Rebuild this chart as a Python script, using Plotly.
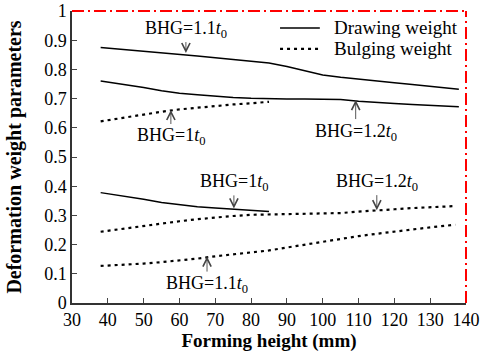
import plotly.graph_objects as go

x_d11 = [38, 45, 50, 55, 60, 65, 70, 75, 80, 85, 90, 95, 100, 105, 110, 115, 120, 125, 130, 135, 138]
y_d11 = [0.875, 0.868, 0.862, 0.857, 0.852, 0.846, 0.840, 0.834, 0.829, 0.822, 0.810, 0.795, 0.781, 0.773, 0.766, 0.759, 0.754, 0.748, 0.742, 0.736, 0.732]

x_d12 = [38, 45, 50, 55, 60, 65, 70, 75, 80, 85, 90, 95, 100, 105, 110, 115, 120, 125, 130, 135, 138]
y_d12 = [0.760, 0.748, 0.738, 0.727, 0.718, 0.713, 0.708, 0.704, 0.701, 0.699, 0.699, 0.699, 0.699, 0.697, 0.691, 0.686, 0.683, 0.680, 0.677, 0.674, 0.672]

x_b10 = [38, 45, 50, 55, 60, 65, 70, 75, 80, 85]
y_b10 = [0.622, 0.636, 0.647, 0.655, 0.663, 0.669, 0.675, 0.680, 0.684, 0.689]

x_d10 = [38, 45, 50, 55, 60, 65, 70, 75, 80, 85]
y_d10 = [0.378, 0.366, 0.355, 0.344, 0.336, 0.330, 0.325, 0.321, 0.317, 0.313]

x_b12 = [38, 45, 50, 55, 60, 65, 70, 75, 80, 85, 90, 95, 100, 105, 110, 115, 120, 125, 130, 137]
y_b12 = [0.244, 0.256, 0.265, 0.273, 0.280, 0.287, 0.293, 0.298, 0.302, 0.303, 0.303, 0.304, 0.305, 0.308, 0.313, 0.318, 0.321, 0.325, 0.328, 0.332]

x_b11 = [38, 45, 50, 55, 60, 65, 70, 75, 80, 85, 90, 95, 100, 105, 110, 115, 120, 125, 130, 137]
y_b11 = [0.127, 0.131, 0.135, 0.140, 0.145, 0.152, 0.160, 0.167, 0.173, 0.180, 0.190, 0.200, 0.210, 0.220, 0.229, 0.237, 0.245, 0.252, 0.259, 0.268]

x_ticks = [30, 40, 50, 60, 70, 80, 90, 100, 110, 120, 130, 140]
y_ticks = [0, 0.1, 0.2, 0.3, 0.4, 0.5, 0.6, 0.7, 0.8, 0.9, 1]
y_tick_text = ["0", "0.1", "0.2", "0.3", "0.4", "0.5", "0.6", "0.7", "0.8", "0.9", "1"]

# annotation labels: (BHG multiplier, arrow-tip x, arrow-tip y, text offset ay in px)
ann_mult = ["1.1", "1", "1.2", "1", "1.2", "1.1"]
ann_x = [61.8, 57.6, 109.2, 75.2, 115.1, 67.7]
ann_y = [0.856, 0.661, 0.695, 0.324, 0.318, 0.159]
ann_ay = [-24, 27, 32, -26, -28, 28]

legend_names = ["Drawing weight", "Bulging weight"]

FONT = "Liberation Serif, Times New Roman, serif"
solid = dict(color="black", width=1.5)
dotted = dict(color="black", width=2.2, dash="3px,4px")

fig = go.Figure()
fig.add_trace(go.Scatter(x=x_d11, y=y_d11, mode="lines", line=solid, name=legend_names[0], showlegend=False))
fig.add_trace(go.Scatter(x=x_b10, y=y_b10, mode="lines", line=dotted, name=legend_names[1], showlegend=False))
fig.add_trace(go.Scatter(x=x_d12, y=y_d12, mode="lines", line=solid, showlegend=False))
fig.add_trace(go.Scatter(x=x_d10, y=y_d10, mode="lines", line=solid, showlegend=False))
fig.add_trace(go.Scatter(x=x_b12, y=y_b12, mode="lines", line=dotted, showlegend=False))
fig.add_trace(go.Scatter(x=x_b11, y=y_b11, mode="lines", line=dotted, showlegend=False))

for m, x, y, ay in zip(ann_mult, ann_x, ann_y, ann_ay):
    fig.add_annotation(x=x, y=y, text="BHG=" + m + "<i>t</i><sub>0</sub>", showarrow=True,
                       ax=0, ay=ay, arrowhead=5, arrowsize=1.8, arrowwidth=0.9,
                       arrowcolor="#444", standoff=0,
                       font=dict(family=FONT, size=18, color="black"))

# legend (drawn as keys + labels in the upper right of the plot)
for i, (name, ln) in enumerate(zip(legend_names, [solid, dotted])):
    yy = 0.942 - i * 0.072
    fig.add_shape(type="line", xref="paper", yref="paper", x0=0.528, x1=0.629, y0=yy, y1=yy, line=ln)
    fig.add_annotation(xref="paper", yref="paper", x=0.66, y=yy, text=name, showarrow=False,
                       xanchor="left", yanchor="middle", font=dict(family=FONT, size=19, color="black"))

# red dash-dot top and right frame
frame = dict(color="red", width=2, dash="12px,4px,2px,4px")
fig.add_shape(type="line", xref="paper", yref="paper", x0=0, x1=1, y0=1, y1=1, line=frame)
fig.add_shape(type="line", xref="paper", yref="paper", x0=1, x1=1, y0=0, y1=1, line=frame)

fig.update_layout(
    width=483, height=355,
    margin=dict(l=72, r=17, t=11, b=52),
    paper_bgcolor="white", plot_bgcolor="white",
    font=dict(family=FONT, size=18, color="black"),
    showlegend=False,
    xaxis=dict(range=[30, 140], tickvals=x_ticks, ticks="inside", ticklen=5,
               showline=True, linecolor="#333", linewidth=1.5, showgrid=False, zeroline=False,
               tickfont=dict(family=FONT, size=18), automargin=False,
               title=dict(text="<b>Forming height (mm)</b>", font=dict(family=FONT, size=19), standoff=0)),
    yaxis=dict(range=[0, 1], tickvals=y_ticks, ticktext=y_tick_text, ticks="inside", ticklen=5,
               showline=True, linecolor="#333", linewidth=1.5, showgrid=False, zeroline=False,
               tickfont=dict(family=FONT, size=18), automargin=False,
               title=dict(text="<b>Deformation weight parameters</b>", font=dict(family=FONT, size=20), standoff=17)),
)

fig.write_html("out.html", config={"displayModeBar": False},
               post_script="document.body.style.margin='0';")
